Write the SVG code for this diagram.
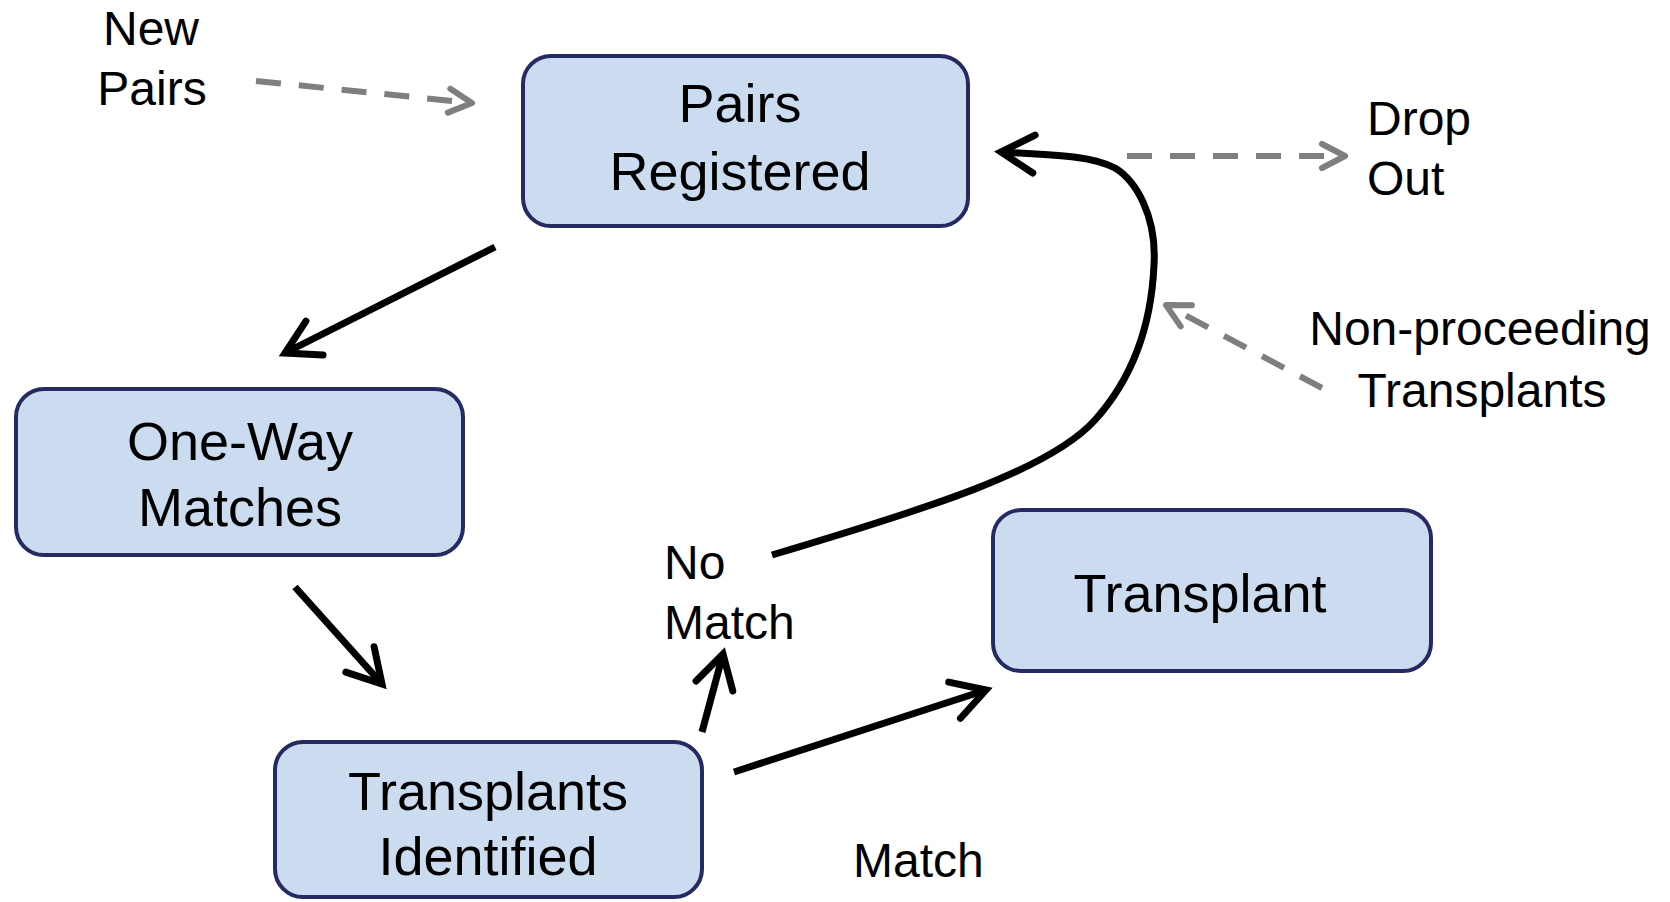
<svg xmlns="http://www.w3.org/2000/svg" width="1670" height="902" viewBox="0 0 1670 902">
<defs>
<style>
.node rect{fill:#cbdcf0;stroke:#252a62;stroke-width:4}
.nt{font-family:"Liberation Sans",Arial,sans-serif;font-size:54px;fill:#000;text-anchor:middle}
.lb{font-family:"Liberation Sans",Arial,sans-serif;font-size:48px;fill:#000}
.solid{fill:none;stroke:#000;stroke-width:7;marker-end:url(#ah)}
.dash{fill:none;stroke:#7f7f7f;stroke-width:6;stroke-dasharray:25 18;marker-end:url(#ag)}
</style>
<marker id="ah" markerUnits="userSpaceOnUse" viewBox="-45 -30 55 60" markerWidth="55" markerHeight="60" refX="0" refY="0" orient="auto">
<path d="M-33,-19 L0,0 L-33,19" fill="none" stroke="#000" stroke-width="7" stroke-linecap="round" stroke-linejoin="miter"/>
</marker>
<marker id="ag" markerUnits="userSpaceOnUse" viewBox="-35 -20 45 40" markerWidth="45" markerHeight="40" refX="0" refY="0" orient="auto">
<path d="M-23,-12 L0,0 L-23,12" fill="none" stroke="#7f7f7f" stroke-width="6" stroke-linecap="round" stroke-linejoin="round"/>
</marker>
</defs>
<rect width="1670" height="902" fill="#fff"/>
<g id="connectors">
<path class="dash" d="M256,81 L472,103"/>
<path class="dash" d="M1127,156 L1345,156"/>
<path class="dash" d="M1322,388 L1166,305"/>
<path class="solid" d="M495,247 L285,353"/>
<path class="solid" d="M295,587 L382,684"/>
<path class="solid" d="M702,732 L723,654"/>
<path class="solid" d="M734,772 L986,690"/>
<path class="solid" d="M772,555 C930,508 1050,470 1095,420 C1140,370 1152,310 1154,265 C1157,215 1135,180 1115,168 C1090,155 1050,155 1001,152"/>
</g>
<g id="pairs-registered" class="node">
<rect x="523" y="56" width="445" height="170" rx="28"/>
<text class="nt" x="740" y="122">Pairs</text>
<text class="nt" x="740" y="190">Registered</text>
</g>
<g id="one-way-matches" class="node">
<rect x="16" y="389" width="447" height="166" rx="28"/>
<text class="nt" x="240" y="460">One-Way</text>
<text class="nt" x="240" y="526">Matches</text>
</g>
<g id="transplants-identified" class="node">
<rect x="275" y="742" width="427" height="155" rx="28"/>
<text class="nt" x="488" y="810">Transplants</text>
<text class="nt" x="488" y="875">Identified</text>
</g>
<g id="transplant" class="node">
<rect x="993" y="510" width="438" height="161" rx="28"/>
<text class="nt" x="1200" y="612">Transplant</text>
</g>
<g id="labels">
<text class="lb" x="151" y="45" text-anchor="middle">New</text>
<text class="lb" x="152" y="105" text-anchor="middle">Pairs</text>
<text class="lb" x="1367" y="135">Drop</text>
<text class="lb" x="1367" y="195">Out</text>
<text class="lb" x="1480" y="345" text-anchor="middle">Non-proceeding</text>
<text class="lb" x="1482" y="407" text-anchor="middle">Transplants</text>
<text class="lb" x="664" y="579">No</text>
<text class="lb" x="664" y="639">Match</text>
<text class="lb" x="853" y="877">Match</text>
</g>
</svg>
